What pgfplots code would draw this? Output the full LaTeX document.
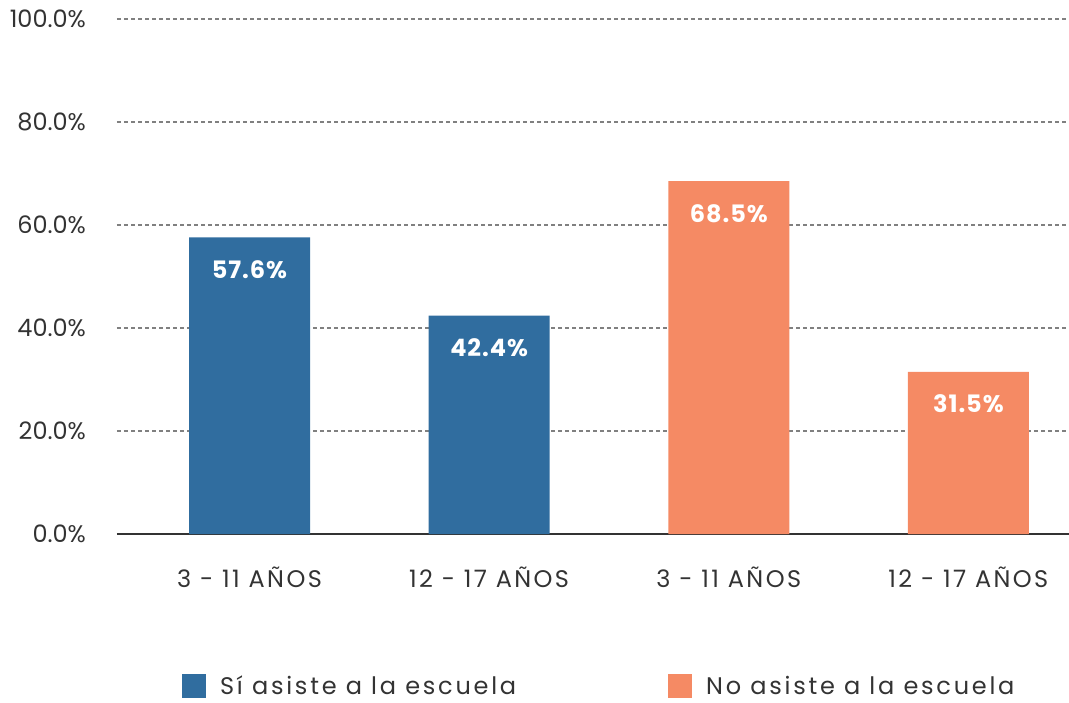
\documentclass[border=0pt]{standalone}
\usepackage{fontspec}
\setmainfont{Poppins}
\newfontfamily\spaced[LetterSpace=10]{Poppins}
\newfontfamily\legfont[LetterSpace=11.5]{Poppins}
\newfontfamily\valfont[LetterSpace=4]{Poppins}
\usepackage{pgfplots}
\pgfplotsset{compat=1.18}
\usetikzlibrary{calc}
\definecolor{sibar}{HTML}{306D9F}
\definecolor{nobar}{HTML}{F58A64}
\definecolor{txt}{HTML}{333333}

\begin{document}
\begin{tikzpicture}
\begin{axis}[
  scale only axis, width=476pt, height=257.5pt,
  xmin=-0.553, xmax=3.42, ymin=0, ymax=100,
  axis x line*=bottom, axis y line*=left,
  y axis line style={draw=none},
  x axis line style={draw=txt, line width=0.8pt},
  ybar,
  xtick={0,1,2,3},
  xticklabels={3 - 11 AÑOS, 12 - 17 AÑOS, 3 - 11 AÑOS, 12 - 17 AÑOS},
  ytick={0,20,...,100},
  yticklabel={\pgfmathprintnumber[fixed,fixed zerofill,precision=1]{\tick}\%},
  /pgf/number format/assume math mode=true,
  major tick length=0pt,
  ymajorgrids,
  grid style={draw=gray, line width=0.7pt, dash pattern=on 2pt off 1.5pt},
  tick label style={text=txt},
  yticklabel style={font=\fontsize{12}{14}\selectfont, xshift=-12pt},
  xticklabel style={font=\spaced\fontsize{12}{14}\selectfont, yshift=-13pt},
  nodes near coords={\pgfmathprintnumber[fixed,fixed zerofill,precision=1]{\pgfplotspointmeta}\%},
  nodes near coords style={font=\valfont\bfseries\fontsize{12}{14}\selectfont, text=white, anchor=center, yshift=-16pt},
  legend columns=2,
  legend style={at={(0.068,-0.296)}, anchor=west, draw=none, inner sep=0pt,
    font=\legfont\fontsize{12}{14}\selectfont, text=txt},
  legend image code/.code={\fill[#1] (0pt,-6pt) rectangle (12pt,6pt);},
]
\addplot[fill=sibar, draw=none, bar width=0.505, bar shift=0pt]
  coordinates {(0,57.6) (1,42.4)};
\addlegendentry{\hspace*{5pt}Sí asiste a la escuela\hspace*{74pt}}
\addplot[fill=nobar, draw=none, bar width=0.505, bar shift=0pt]
  coordinates {(2,68.5) (3,31.5)};
\addlegendentry{\hspace*{5pt}No asiste a la escuela}
\end{axis}
\pgfresetboundingbox
\path ($(current axis.south west)+(-58.5pt,-84pt)$) rectangle ($(current axis.north east)+(0pt,9.5pt)$);
\end{tikzpicture}
\end{document}
